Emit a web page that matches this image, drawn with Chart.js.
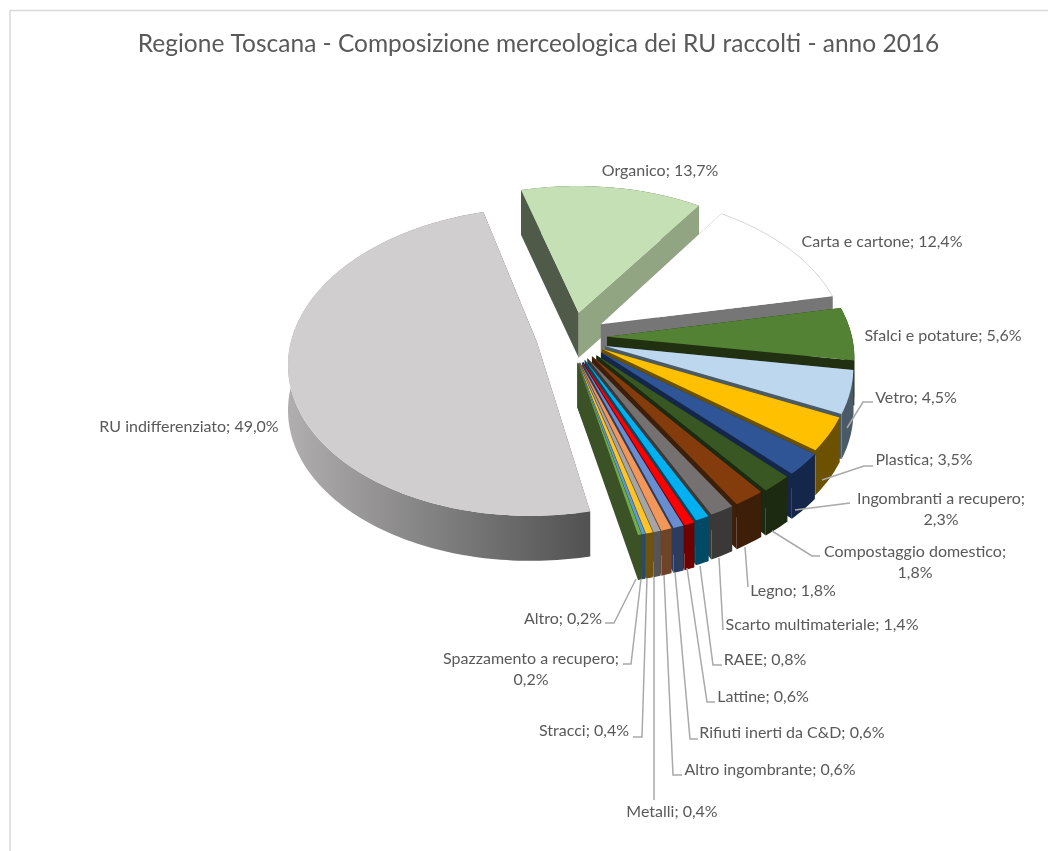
<!DOCTYPE html>
<html>
<head>
<meta charset="utf-8">
<title>Composizione merceologica RU</title>
<script src="https://cdn.jsdelivr.net/npm/chart.js@4/dist/chart.umd.min.js"></script>
<style>
  html, body { margin: 0; padding: 0; background: #fff; }
  canvas { display: block; }
</style>
</head>
<body>
<canvas id="grafico" width="1048" height="851"></canvas>
<script>
// Dati
var categories = ["Organico", "Carta e cartone", "Sfalci e potature", "Vetro", "Plastica",
    "Ingombranti a recupero", "Compostaggio domestico", "Legno", "Scarto multimateriale",
    "RAEE", "Lattine", "Rifiuti inerti da C&D", "Altro ingombrante", "Metalli", "Stracci",
    "Spazzamento a recupero", "Altro", "RU indifferenziato"];
var values = [13.7, 12.4, 5.6, 4.5, 3.5, 2.3, 1.8, 1.8, 1.4, 0.8, 0.6, 0.6, 0.6, 0.4, 0.4, 0.2, 0.2, 49.0];

// Colori: faccia superiore, parete esterna, taglio laterale
var topColors = ["#c5e0b4", "#ffffff", "#548235", "#bdd7ee", "#ffc000", "#2f5597", "#385723", "#843c0c",
    "#767171", "#00b0f0", "#ff0000", "#698ed0", "#f1975a", "#a5a5a5", "#ffc42a", "#5b9bd5", "#70ad47", "#d0cece"];
var wallColors = ["#4f5b48", "#767676", "#203010", "#4a5a66", "#6b5100", "#14274a", "#1b2a11", "#3d1e08",
    "#3b3838", "#004a66", "#6e0000", "#2c3c5e", "#6e4328", "#555555", "#6e5411", "#2c4a66", "#3b5226", "#525252"];
var cutColors = ["#92a582", "#767676", "#203010", "#4a5a66", "#6b5100", "#14274a", "#1b2a11", "#3d1e08",
    "#3b3838", "#004a66", "#6e0000", "#2c3c5e", "#6e4328", "#555555", "#6e5411", "#2c4a66", "#3b5226", "#525252"];
var explode = [55, 35, 29, 28, 28, 28, 28, 28, 28, 28, 29, 29, 29, 29, 29, 29, 29, 44];
var nudgeX = [-8, -6, 0, 0, 0, 2, 0, -2, -4, -5, -6, -6, -7, -7, -7, -7, -7, 2];
var nudgeY = [0, -9, -8, -4, -5, -4, -3, -3, -2, -1, 0, 0, 0, 0, 0, 0, 0, -9];

// Posizione delle etichette: centro x, y, a capo dopo il ";"
var labelX = [660, 882, 943, 916, 924, 941, 915, 793, 822, 765, 763, 792, 770, 672, 584, 531, 563, 189];
var labelY = [171, 242, 336, 398, 460, 499, 552, 591, 625, 660, 697, 733, 770, 812, 731, 659, 619, 427];
var labelWrap = [0, 0, 0, 0, 0, 1, 1, 0, 0, 0, 0, 0, 0, 0, 0, 1, 0, 0];
var leaders = [null, null, null,
    [[847, 428], [863, 402], [873, 402]],
    [[822, 480], [864, 466], [873, 466]],
    [[795, 510], [850, 503]],
    [[772, 531], [812, 556], [820, 556]],
    [[745, 547], [748, 587]],
    [[719, 558], [723, 630]],
    [[700, 566], [713, 665], [722, 665]],
    [[687, 568], [707, 702], [715, 702]],
    [[675, 572], [690, 739], [698, 739]],
    [[664, 575], [673, 775], [682, 775]],
    [[654, 577], [654, 800]],
    [[647, 578], [642, 737], [633, 737]],
    [[641, 579], [631, 664], [623, 664]],
    [[636, 579], [614, 623], [605, 623]],
    null];

var textColor = "#595959";
var view = { cx: 578, cy: 345, ry: 150, persp: 0.125, depth: 45 };

function project(x, y, r) {
    var w = 1 - view.persp * y / r;
    return { x: view.cx + x / w, y: view.cy + view.ry * (y / r) / w };
}

function fillPoly(ctx, pts, color) {
    ctx.beginPath();
    pts.forEach(function(p, i) {
        if (i === 0) ctx.moveTo(p.x, p.y); else ctx.lineTo(p.x, p.y);
    });
    ctx.closePath();
    ctx.fillStyle = color;
    ctx.fill();
}

function drop(p) {
    return { x: p.x, y: p.y + view.depth };
}

// Torta 3D: gli archi calcolati dalla libreria vengono proiettati in prospettiva
var pie3d = {
    id: "pie3d",
    beforeDatasetDraw: function(chart, args) {
        var ctx = chart.ctx;
        var arcs = chart.getDatasetMeta(args.index).data;
        var order = arcs.map(function(a, i) { return i; });
        function midOf(a) { return (a.startAngle + a.endAngle) / 2; }
        order.sort(function(i, j) { return Math.sin(midOf(arcs[i])) - Math.sin(midOf(arcs[j])); });

        order.forEach(function(i) {
            var arc = arcs[i];
            var r = arc.outerRadius;
            var mid = midOf(arc);
            var ox = Math.cos(mid) * arc.options.offset;
            var oy = Math.sin(mid) * arc.options.offset;
            var pt = function(a, rr) {
                var p = project(ox + Math.cos(a) * rr, oy + Math.sin(a) * rr, r);
                return { x: p.x + nudgeX[i], y: p.y + nudgeY[i] };
            };
            var apex = pt(mid, 0);
            var rim = [];
            var steps = Math.max(2, Math.ceil((arc.endAngle - arc.startAngle) / 0.02));
            for (var s = 0; s <= steps; s++) {
                rim.push(pt(arc.startAngle + (arc.endAngle - arc.startAngle) * s / steps, r));
            }
            var first = rim[0], last = rim[rim.length - 1];
            var wallFill = wallColors[i];
            if (i === arcs.length - 1) {
                wallFill = ctx.createLinearGradient(288, 0, 588, 0);
                wallFill.addColorStop(0, "#b0aeae");
                wallFill.addColorStop(1, wallColors[i]);
            }
            var wallPoly = rim.concat(rim.slice().reverse().map(drop));
            var cuts = function() {
                fillPoly(ctx, [apex, first, drop(first), drop(apex)], wallColors[i]);
                fillPoly(ctx, [apex, last, drop(last), drop(apex)], cutColors[i]);
            };
            if (Math.sin(mid) > 0) {
                cuts();
                fillPoly(ctx, wallPoly, wallFill);
            } else {
                fillPoly(ctx, wallPoly, wallFill);
                cuts();
            }
            var face = [apex].concat(rim);
            fillPoly(ctx, face, arc.options.backgroundColor);
            if (arc.options.borderWidth > 0) {
                ctx.strokeStyle = arc.options.borderColor;
                ctx.lineWidth = arc.options.borderWidth;
                ctx.beginPath();
                rim.forEach(function(p, k) {
                    if (k === 0) ctx.moveTo(p.x, p.y); else ctx.lineTo(p.x, p.y);
                });
                ctx.stroke();
            }
        });
        return false;
    }
};

// Cornice, linee guida ed etichette
var decorations = {
    id: "decorations",
    beforeDraw: function(chart) {
        var ctx = chart.ctx;
        ctx.save();
        ctx.strokeStyle = "#d9d9d9";
        ctx.lineWidth = 1.5;
        ctx.strokeRect(10, 10.5, 1200, 1200);
        ctx.restore();
    },
    afterDraw: function(chart) {
        var ctx = chart.ctx;
        ctx.save();
        ctx.strokeStyle = "#a9a9a9";
        ctx.lineWidth = 1.5;
        leaders.forEach(function(line) {
            if (!line) return;
            ctx.beginPath();
            line.forEach(function(p, k) {
                if (k === 0) ctx.moveTo(p[0], p[1]); else ctx.lineTo(p[0], p[1]);
            });
            ctx.stroke();
        });
        ctx.fillStyle = textColor;
        ctx.font = "16px Lato";
        ctx.textAlign = "center";
        ctx.textBaseline = "middle";
        categories.forEach(function(name, i) {
            var pct = values[i].toFixed(1).replace(".", ",") + "%";
            if (labelWrap[i]) {
                ctx.fillText(name + ";", labelX[i], labelY[i]);
                ctx.fillText(pct, labelX[i], labelY[i] + 21);
            } else {
                ctx.fillText(name + "; " + pct, labelX[i], labelY[i]);
            }
        });
        ctx.restore();
    }
};

new Chart("grafico", {
    type: "pie",
    data: {
        labels: categories,
        datasets: [{
            data: values,
            backgroundColor: topColors,
            borderColor: topColors.map(function(c) { return c === "#ffffff" ? "#dcdcdc" : c; }),
            borderWidth: topColors.map(function(c) { return c === "#ffffff" ? 1 : 0; }),
            offset: explode,
            radius: 245
        }]
    },
    options: {
        responsive: false,
        animation: false,
        rotation: -15.4,
        layout: { padding: { left: 29, top: 29 } },
        plugins: {
            legend: { display: false },
            tooltip: { enabled: false },
            title: {
                display: true,
                text: "Regione Toscana - Composizione merceologica dei RU raccolti - anno 2016",
                color: textColor,
                font: { family: "Lato", size: 24.5, weight: "normal" },
                padding: { top: 0, bottom: 10 }
            }
        }
    },
    plugins: [pie3d, decorations]
});
</script>
</body>
</html>
